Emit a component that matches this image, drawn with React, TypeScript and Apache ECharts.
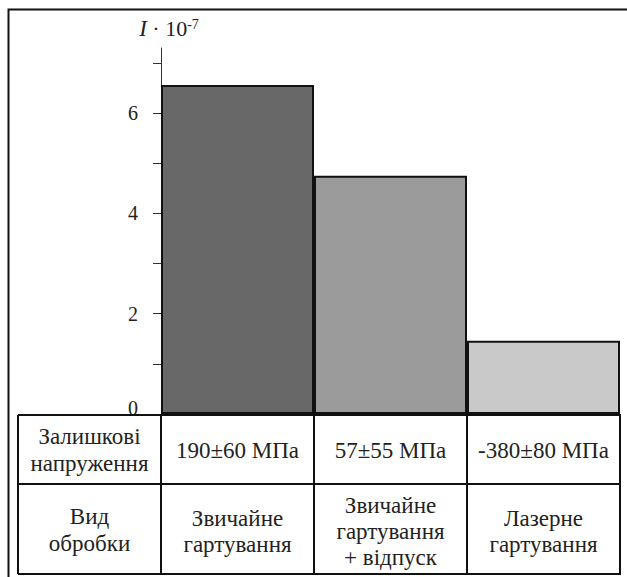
import React, { useEffect, useRef } from "react";
import * as echarts from "echarts";

const treatments = ["Звичайне\nгартування", "Звичайне\nгартування\n+ відпуск", "Лазерне\nгартування"];
const stresses = ["190±60 МПа", "57±55 МПа", "-380±80 МПа"];
const values = [6.56, 4.75, 1.46];
const barColors = ["#686868", "#9b9b9b", "#c9c9c9"];
const rowHeaders = ["Залишкові\nнапруження", "Вид\nобробки"];
const yTickValues = [0, 1, 2, 3, 4, 5, 6, 7];
const yLabelValues = [0, 2, 4, 6];

const FONT = "'Liberation Serif', 'Times New Roman', serif";

export default function App() {
  const ref = useRef<HTMLDivElement>(null);
  useEffect(() => {
    if (!ref.current) return;
    const chart = echarts.init(ref.current, null, { renderer: "svg" });
    const W = 627;
    const gridLeft = 161;
    const gridRight = 620;
    const tableLeft = 18;
    const rowY = [415, 484, 574];
    const colW = (gridRight - gridLeft) / treatments.length;
    const colX = [tableLeft, gridLeft];
    for (let i = 1; i <= treatments.length; i++) colX.push(gridLeft + colW * i);
    const lineStyle = { stroke: "#111", lineWidth: 2 };
    const graphics: any[] = [];
    rowY.forEach((y) =>
      graphics.push({ type: "line", shape: { x1: tableLeft, y1: y, x2: gridRight + 1, y2: y }, style: lineStyle, z: 10 })
    );
    colX.forEach((x) =>
      graphics.push({ type: "line", shape: { x1: x, y1: rowY[0], x2: x, y2: rowY[2] }, style: lineStyle, z: 10 })
    );
    rowHeaders.forEach((t, i) =>
      graphics.push({
        type: "text",
        x: (tableLeft + gridLeft) / 2,
        y: i === 0 ? 450 : 530,
        style: {
          text: t,
          font: `23px ${FONT}`,
          fill: "#222",
          align: "center",
          verticalAlign: "middle",
          lineHeight: 27,
        },
      })
    );
    graphics.push({
      type: "polyline",
      shape: { points: [[8.5, 580], [8.5, 9.5], [W + 2, 9.5]] },
      style: { stroke: "#111", lineWidth: 2, fill: null },
    });

    const cellLabel = {
      interval: 0,
      verticalAlign: "middle",
      fontSize: 23,
      fontFamily: FONT,
      color: "#222",
      lineHeight: 26,
    };

    chart.setOption({
      animation: false,
      backgroundColor: "#fff",
      grid: { left: gridLeft, right: W - gridRight, top: 48, bottom: 577 - 414 },
      xAxis: [
        {
          type: "category",
          data: stresses,
          position: "bottom",
          axisLine: { show: false },
          axisTick: { show: false },
          axisLabel: { ...cellLabel, margin: 36 },
        },
        {
          type: "category",
          data: treatments,
          position: "bottom",
          offset: 70,
          axisLine: { show: false },
          axisTick: { show: false },
          axisLabel: { ...cellLabel, margin: 47 },
        },
      ],
      yAxis: {
        type: "value",
        min: 0,
        max: 7.3,
        splitLine: { show: false },
        axisLine: { show: true, lineStyle: { color: "#333", width: 1 } },
        axisTick: { show: true, inside: false, length: 8, customValues: yTickValues, lineStyle: { color: "#333" } },
        axisLabel: {
          customValues: yLabelValues,
          margin: 23,
          fontSize: 20,
          fontFamily: FONT,
          color: "#222",
          formatter: (v: number) => (v === 0 ? "{z|0}" : String(v)),
          rich: { z: { fontSize: 20, fontFamily: FONT, color: "#222", padding: [0, 0, 12, 0] } },
        },
        name: "{i|I} · 10{sup|-7}",
        nameLocation: "end",
        nameGap: 8,
        nameTextStyle: {
          fontSize: 22,
          fontFamily: FONT,
          color: "#222",
          padding: [0, 0, 0, 16],
          rich: {
            i: { fontSize: 23, fontFamily: FONT, fontStyle: "italic", color: "#222" },
            sup: { fontSize: 14, fontFamily: FONT, color: "#222", verticalAlign: "top", padding: [0, 0, 9, 0] },
          },
        },
      },
      series: [
        {
          type: "bar",
          xAxisIndex: 0,
          barCategoryGap: "0%",
          data: values.map((v, i) => ({ value: v, itemStyle: { color: barColors[i] } })),
          itemStyle: { borderColor: "#111", borderWidth: 2 },
        },
      ],
      graphic: graphics,
    });
    return () => chart.dispose();
  }, []);
  return <div ref={ref} style={{ position: "fixed", left: 0, top: 0, width: 627, height: 577 }} />;
}
